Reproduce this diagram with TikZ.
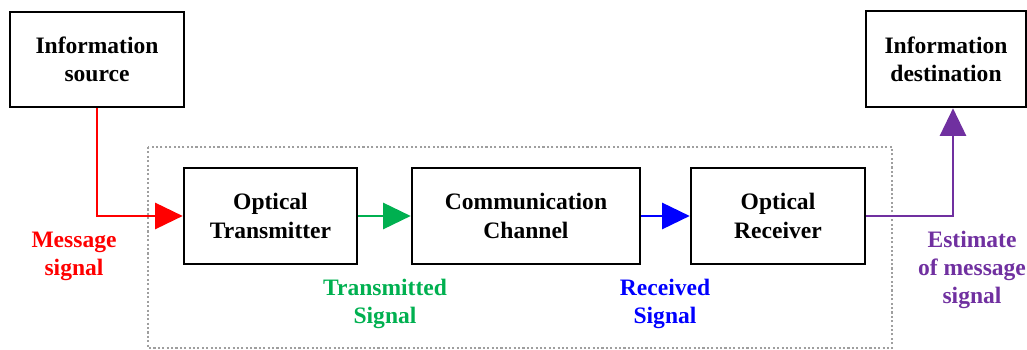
\documentclass[tikz,border=0pt]{standalone}
\usepackage{fontspec}
\setmainfont{Liberation Serif}
\usetikzlibrary{arrows.meta}
\definecolor{msgred}{RGB}{255,0,0}
\definecolor{txgreen}{RGB}{0,176,80}
\definecolor{rxblue}{RGB}{0,0,255}
\definecolor{estpurple}{RGB}{112,48,160}
\tikzset{
  block/.style={draw, line width=1.5pt, align=center, font=\bfseries\fontsize{13.4}{16}\selectfont},
  sig/.style={line width=1.4pt, -{Triangle[length=0.55cm, width=0.52cm]}},
  siglabel/.style={align=center, font=\bfseries\fontsize{13.4}{16}\selectfont}
}

\begin{document}
\begin{tikzpicture}[x=0.02cm, y=-0.02cm]
\useasboundingbox (0,0) rectangle (1027,350);
\draw[gray!75, line width=1.2pt, dash pattern=on 1.2pt off 1.3pt] (148,147) rectangle (892,348);
\node[block, minimum width=3.48cm, minimum height=1.9cm] (src) at (97,59.5) {Information\\source};
\node[block, minimum width=3.2cm, minimum height=1.92cm] (dst) at (946,59) {Information\\destination};
\node[block, minimum width=3.46cm, minimum height=1.92cm] (tx) at (270.5,216) {Optical\\Transmitter};
\node[block, minimum width=4.56cm, minimum height=1.92cm] (ch) at (526,216) {Communication\\Channel};
\node[block, minimum width=3.48cm, minimum height=1.92cm] (rx) at (778,216) {Optical\\Receiver};
\draw[sig, msgred] (src.south) |- (tx.west);
\draw[sig, txgreen] (tx.east) -- (ch.west);
\draw[sig, rxblue] (ch.east) -- (rx.west);
\draw[sig, estpurple] (rx.east) -| ([xshift=0.14cm]dst.south);
\node[siglabel, msgred] (msg) at (74,256) {Message\\signal};
\node[siglabel, txgreen] (txs) at (385,304) {Transmitted\\Signal};
\node[siglabel, rxblue] (rxs) at (665,304) {Received\\Signal};
\node[siglabel, estpurple] (est) at (972,270) {Estimate\\of message\\signal};
\end{tikzpicture}
\end{document}
